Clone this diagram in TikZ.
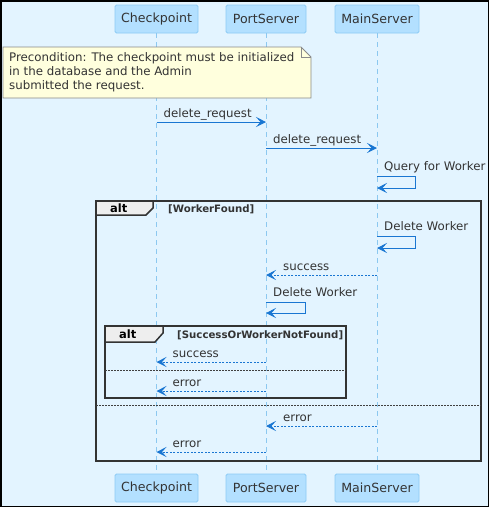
\documentclass[tikz,border=0pt]{standalone}
\usepackage{fontspec}
\setmainfont{DejaVu Sans}
\usetikzlibrary{arrows.meta,calc}
\definecolor{bgc}{HTML}{E3F4FF}
\definecolor{partfill}{HTML}{B3E0FF}
\definecolor{partdraw}{HTML}{8CCBF5}
\definecolor{lifec}{HTML}{8CC8F0}
\definecolor{arrc}{HTML}{1976D2}
\definecolor{txtc}{HTML}{333333}
\definecolor{notefill}{HTML}{FFFFDD}
\definecolor{notedraw}{HTML}{8A8A8A}
\definecolor{tabfill}{HTML}{EEEEEE}
\tikzset{
  part/.style={draw=partdraw, fill=partfill, rounded corners=1.5pt, minimum width=#1, minimum height=28pt, inner sep=0pt, text=txtc, font=\fontsize{12.6}{14}\selectfont, line width=0.8pt},
  lifeline/.style={draw=lifec, dash pattern=on 5pt off 4pt, line width=0.8pt},
  msg/.style={draw=arrc, line width=1pt, -{Stealth[length=10pt,width=10pt,inset=4.5pt]}},
  ret/.style={msg, dash pattern=on 2pt off 1.5pt},
  mlabel/.style={text=txtc, font=\fontsize{11.8}{13}\selectfont, inner sep=0pt, anchor=base west},
  frame/.style={draw=black!80, line width=1.5pt},
  sep/.style={draw=black!75, line width=0.8pt, dash pattern=on 1.5pt off 1.5pt},
  fbold/.style={text=txtc, font=\bfseries\fontsize{10.2}{12}\selectfont, inner sep=0pt, anchor=base west},
  altlbl/.style={text=black, font=\bfseries\fontsize{11.5}{13}\selectfont, inner sep=0pt, anchor=base west}
}
\begin{document}
\begin{tikzpicture}[x=1pt,y=-1pt]
\useasboundingbox (0,0) rectangle (489,507);
\fill[bgc] (0,0) rectangle (489,507);
\draw[black, line width=1.5pt] (0.75,0.75) rectangle (488.25,506.25);

% participants
\node[part=83pt] (cpT) at (156.5,19) {Checkpoint};
\node[part=80pt] (psT) at (266,19) {PortServer};
\node[part=84pt] (msT) at (377,19) {MainServer};
\node[part=83pt] (cpB) at (156.5,488) {Checkpoint};
\node[part=80pt] (psB) at (266,488) {PortServer};
\node[part=84pt] (msB) at (377,488) {MainServer};

\draw[lifeline] (cpT.south) -- (cpB.north);
\draw[lifeline] (psT.south) -- (psB.north);
\draw[lifeline] (msT.south) -- (msB.north);

% note
\draw[draw=notedraw, fill=notefill, line width=0.8pt] (3,47) -- (301,47) -- (311,57) -- (311,98) -- (3,98) -- cycle;
\draw[draw=notedraw, line width=0.8pt] (301,47) -- (301,57) -- (311,57);
\node[text=txtc, font=\fontsize{11.8}{14}\selectfont, align=left, anchor=north west, inner sep=0pt] (note) at (9,52) {Precondition: The checkpoint must be initialized\\in the database and the Admin\\submitted the request.};

% message 1
\coordinate (m1a) at (cpT.south |- 0,122);
\coordinate (m1b) at (psT.south |- 0,122);
\draw[msg] (m1a) -- (m1b);
\node[mlabel] (l1) at ($(m1a)+(7,-5)$) {delete\_request};

% message 2
\coordinate (m2a) at (psT.south |- 0,148);
\coordinate (m2b) at (msT.south |- 0,148);
\draw[msg] (m2a) -- (m2b);
\node[mlabel] (l2) at ($(m2a)+(7,-5)$) {delete\_request};

% message 3 self
\coordinate (m3a) at (msT.south |- 0,176);
\coordinate (m3b) at (msT.south |- 0,188);
\draw[msg] (m3a) -- ++(38,0) |- (m3b);
\node[mlabel] (l3) at ($(m3a)+(7,-6)$) {Query for Worker};

% outer alt frame
\draw[frame] (96,201) rectangle (481,461);
\draw[frame, fill=tabfill] (96,201) -- (153,201) -- (153,208) -- (146,215) -- (96,215) -- cycle;
\node[altlbl] (alt1) at (110,212) {alt};
\node[fbold] (g1) at (168,212) {[WorkerFound]};

% message 4 self
\coordinate (m4a) at (msT.south |- 0,236);
\coordinate (m4b) at (msT.south |- 0,248);
\draw[msg] (m4a) -- ++(38,0) |- (m4b);
\node[mlabel] (l4) at ($(m4a)+(7,-6)$) {Delete Worker};

% message 5 return
\coordinate (m5a) at (msT.south |- 0,275);
\coordinate (m5b) at (psT.south |- 0,275);
\draw[ret] (m5a) -- (m5b);
\node[mlabel] (l5) at ($(m5b)+(17,-5)$) {success};

% message 6 self
\coordinate (m6a) at (psT.south |- 0,302);
\coordinate (m6b) at (psT.south |- 0,313);
\draw[msg] (m6a) -- ++(39,0) |- (m6b);
\node[mlabel] (l6) at ($(m6a)+(7,-6)$) {Delete Worker};

% inner alt frame
\draw[frame] (105,326) rectangle (346,398);
\draw[frame, fill=tabfill] (105,326) -- (163,326) -- (163,333) -- (155,342) -- (105,342) -- cycle;
\node[altlbl] (alt2) at (119,338.5) {alt};
\node[fbold] (g2) at (177,338) {[SuccessOrWorkerNotFound]};

% message 7
\coordinate (m7a) at (psT.south |- 0,362);
\coordinate (m7b) at (cpT.south |- 0,362);
\draw[ret] (m7a) -- (m7b);
\node[mlabel] (l7) at ($(m7b)+(16,-5)$) {success};

\draw[sep] (105,370) -- (346,370);

% message 8
\coordinate (m8a) at (psT.south |- 0,391);
\coordinate (m8b) at (cpT.south |- 0,391);
\draw[ret] (m8a) -- (m8b);
\node[mlabel] (l8) at ($(m8b)+(16,-5)$) {error};

\draw[sep] (96,405) -- (481,405);

% message 9
\coordinate (m9a) at (msT.south |- 0,426);
\coordinate (m9b) at (psT.south |- 0,426);
\draw[ret] (m9a) -- (m9b);
\node[mlabel] (l9) at ($(m9b)+(17,-5)$) {error};

% message 10
\coordinate (m10a) at (psT.south |- 0,452);
\coordinate (m10b) at (cpT.south |- 0,452);
\draw[ret] (m10a) -- (m10b);
\node[mlabel] (l10) at ($(m10b)+(16,-5)$) {error};
\end{tikzpicture}
\end{document}
